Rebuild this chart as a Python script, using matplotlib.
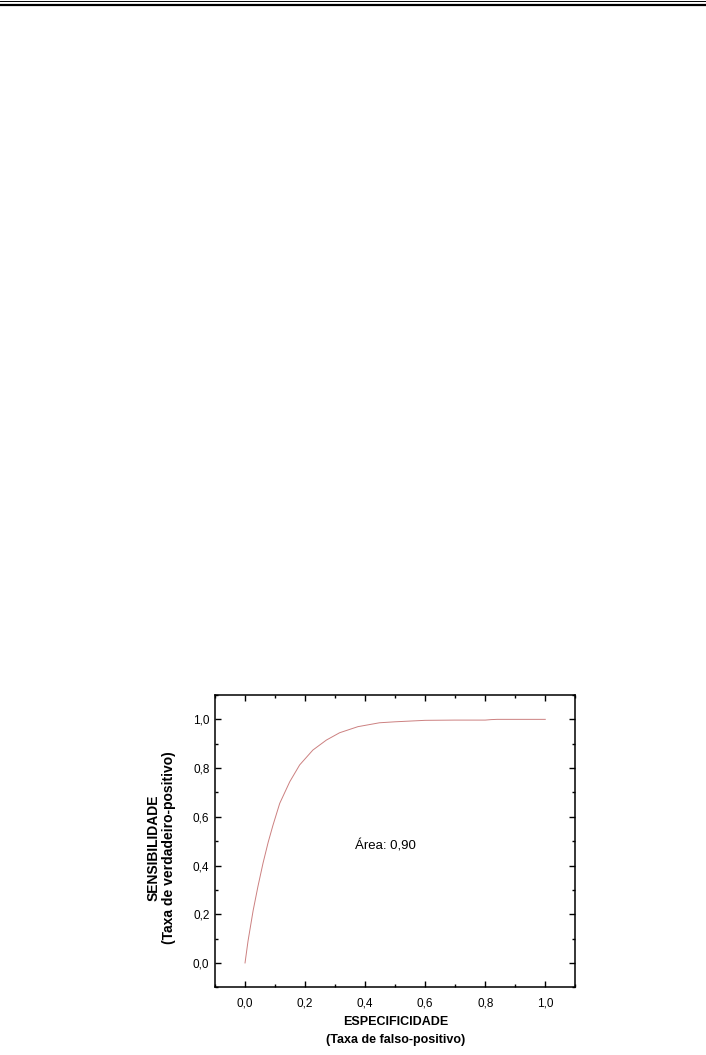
import matplotlib.pyplot as plt
from matplotlib.lines import Line2D
from matplotlib.ticker import MultipleLocator

plt.rcParams['font.family'] = ['Liberation Sans', 'DejaVu Sans']

# curva ROC
fpr = [0, 0.01, 0.027, 0.043, 0.06, 0.077, 0.093, 0.1155, 0.149, 0.182, 0.226, 0.271,
       0.315, 0.376, 0.448, 0.5, 0.6, 0.7, 0.8, 0.82, 0.84, 1.0]
tpr = [0, 0.09, 0.215, 0.314, 0.41, 0.495, 0.565, 0.655, 0.744, 0.813, 0.874, 0.915,
       0.945, 0.970, 0.986, 0.990, 0.996, 0.997, 0.997, 0.999, 1.0, 1.0]
area_txt = 'Área: 0,90'
xlab = ['ESPECIFICIDADE', '(Taxa de falso-positivo)']
ylab = ['SENSIBILIDADE', '(Taxa de verdadeiro-positivo)']

W, H = 706, 1055
fig = plt.figure(figsize=(W / 100, H / 100), dpi=100)

# linhas do cabecalho da pagina
fig.add_artist(Line2D([0, 1], [1 - 1.2 / H, 1 - 1.2 / H], color='black', lw=0.7))
fig.add_artist(Line2D([0, 1], [1 - 4.8 / H, 1 - 4.8 / H], color='black', lw=1.6))

ax = fig.add_axes([215 / W, 1 - 987.3 / H, 360.3 / W, 292.3 / H])
ax.plot(fpr, tpr, color='#cc8080', lw=0.7)
ax.set_xlim(-0.1, 1.1)
ax.set_ylim(-0.1, 1.1)

ax.xaxis.set_major_locator(MultipleLocator(0.2))
ax.xaxis.set_minor_locator(MultipleLocator(0.1))
ax.yaxis.set_major_locator(MultipleLocator(0.2))
ax.yaxis.set_minor_locator(MultipleLocator(0.1))
fmt = lambda v, p: ('%.1f' % v).replace('.', ',').replace('-0,0', '0,0')
ax.xaxis.set_major_formatter(fmt)
ax.yaxis.set_major_formatter(fmt)
ax.tick_params(which='both', direction='in', top=True, right=True, width=1.0)
ax.tick_params(which='major', length=4.5)
ax.tick_params(which='minor', length=2.5)
ax.tick_params(axis='x', which='major', labelsize=8.5, pad=7)
ax.tick_params(axis='y', which='major', labelsize=8.5, pad=4)
for s in ax.spines.values():
    s.set_linewidth(1.1)

ax.text(0.467, 0.482, area_txt, fontsize=9.5, ha='center', va='center')

# rotulos dos eixos
fig.text(395.5 / W, 1 - 1022.3 / H, xlab[0], fontsize=9, fontweight='bold', ha='center', va='center')
fig.text(395.5 / W, 1 - 1040 / H, xlab[1], fontsize=9, fontweight='bold', ha='center', va='center')
fig.text(153.3 / W, 1 - 848 / H, ylab[0], fontsize=10, fontweight='bold', ha='center', va='center', rotation=90)
fig.text(168.5 / W, 1 - 848 / H, ylab[1], fontsize=10, fontweight='bold', ha='center', va='center', rotation=90)

fig.savefig('out.png', dpi=100)
